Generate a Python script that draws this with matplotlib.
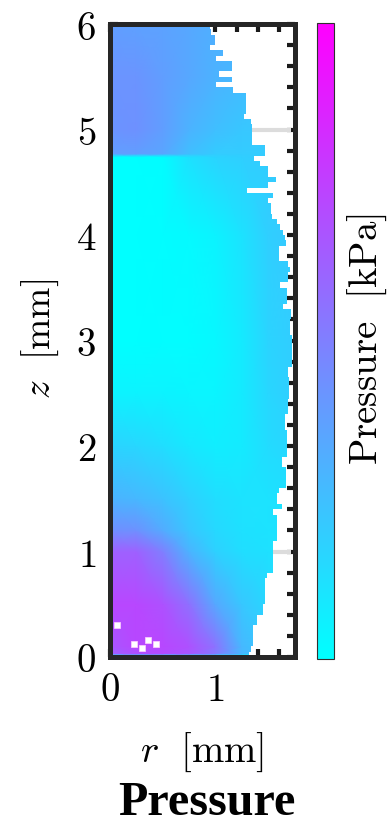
import numpy as np
import matplotlib
matplotlib.use("Agg")
import matplotlib.pyplot as plt
from matplotlib.patches import Polygon
from matplotlib.ticker import FixedLocator

plt.rcParams['mathtext.fontset'] = 'cm'
plt.rcParams['font.family'] = ['DejaVu Serif']

r_cols = [0, .25, .5, .75, 1.0, 1.25, 1.5, 1.8]
z_rows = [0, .02, .03, .1, .5, 1.0, 1.2, 1.5, 2.0, 2.5, 3.0, 4.0, 4.74, 4.77, 5.0, 5.5, 6.0]
pressure = [
    [0, 0, 0, 0, 0, 0, 0, 0],
    [0, 0, 0, 0, 0, 0, 0, 0],
    [.62, .68, .70, .66, .52, .28, .2, .2],
    [.66, .72, .72, .68, .55, .28, .2, .2],
    [.72, .72, .68, .56, .34, .22, .16, .15],
    [.62, .62, .5, .3, .18, .13, .12, .12],
    [.44, .43, .33, .22, .15, .12, .11, .12],
    [.30, .28, .24, .18, .13, .11, .11, .12],
    [.17, .16, .13, .09, .07, .08, .14, .17],
    [.05, .05, .05, .04, .04, .08, .16, .2],
    [0, 0, .01, .01, .03, .08, .17, .2],
    [0, 0, .01, .02, .05, .11, .19, .22],
    [0, 0, .01, .12, .17, .19, .2, .2],
    [.38, .38, .35, .25, .2, .2, .2, .2],
    [.42, .43, .38, .30, .25, .22, .22, .22],
    [.42, .42, .38, .34, .30, .27, .25, .25],
    [.38, .37, .36, .34, .31, .30, .3, .3],
]

# outer radius of the measured region, per 0.05 mm slice from z=6 downward
r_edge = [.95, .96, 1.0, 1.0, .95, 1.07, 1.01, 1.16, 1.16, 1.03, 1.16, 1.01, 1.17,
          1.29, 1.29, 1.29, 1.29, 1.27, 1.34, 1.35, 1.35, 1.35, 1.35, 1.47, 1.47,
          1.37, 1.42, 1.5, 1.5, 1.57, 1.5, 1.3, 1.55, 1.5, 1.53, 1.53, 1.54, 1.58,
          1.61, 1.64, 1.66, 1.67, 1.6, 1.6, 1.6,
          1.69, 1.71, 1.69, 1.69, 1.61, 1.68, 1.68, 1.68, 1.64, 1.72, 1.72, 1.71,
          1.71, 1.71, 1.73, 1.73, 1.73, 1.73, 1.73, 1.73, 1.69, 1.69, 1.70, 1.70,
          1.70, 1.70, 1.69, 1.69, 1.69, 1.66, 1.66, 1.66, 1.68, 1.68, 1.68, 1.68,
          1.68, 1.63, 1.63, 1.67, 1.67, 1.67, 1.67, 1.60, 1.58, 1.58, 1.63,
          1.55, 1.58, 1.58, 1.58, 1.58, 1.58, 1.55, 1.55, 1.55, 1.55, 1.55, 1.55,
          1.49, 1.47, 1.47, 1.47, 1.47, 1.47, 1.45, 1.45, 1.39, 1.39, 1.36, 1.36,
          1.36, 1.36, 1.34, 1.32]

hole_r = [.07, .23, .30, .36, .44]
hole_z = [.30, .12, .09, .16, .12]
grey_z = [5.0, 1.0]
grey_r0 = [1.35, 1.55]

fig = plt.figure(figsize=(3.9, 8.28), dpi=100)
W, H = 390., 828.
x0, x1, ytop, ybot = 110., 294.5, 25., 658.
ax = fig.add_axes([x0/W, 1-ybot/H, (x1-x0)/W, (ybot-ytop)/H])
ax.set_xlim(0, 1.75)
ax.set_ylim(0, 6)
ax.set_axisbelow(True)

mesh = ax.pcolormesh(r_cols, z_rows, np.array(pressure), cmap='cool', vmin=0, vmax=1,
                     shading='gouraud', zorder=1)
verts = [(0, 6)]
z_top = 6.0
for re in r_edge:
    verts += [(re, z_top), (re, z_top-.05)]
    z_top -= .05
verts.append((0, 0))
clip = Polygon(verts, closed=True, transform=ax.transData)
mesh.set_clip_path(clip)

ax.scatter(hole_r, hole_z, marker='s', s=14, c='white', edgecolors='#ffd0ff', linewidths=.5, zorder=1.5)
for gz, g0 in zip(grey_z, grey_r0):
    ax.plot([g0, 1.72], [gz, gz], color='#dcdcdc', lw=3, solid_capstyle='butt', zorder=0.8)

for s in ax.spines.values():
    s.set_linewidth(3.6)
    s.set_color('#262626')
ax.xaxis.set_major_locator(FixedLocator([0, 1]))
ax.yaxis.set_major_locator(FixedLocator([0, 1, 2, 3, 4, 5, 6]))
ax.xaxis.set_minor_locator(FixedLocator([.2, .4, .6, .8, 1.2, 1.4, 1.6]))
ax.yaxis.set_minor_locator(FixedLocator([z/5 for z in range(31) if z % 5]))
ax.set_xticklabels(['$0$', '$1$'])
ax.set_yticklabels([f'${i}$' for i in range(7)])
ax.tick_params(which='both', direction='in', top=True, right=True, length=6, width=3, color='#1a1a1a')
ax.tick_params(which='major', labelsize=28, pad=10)

cax = fig.add_axes([316.5/W, 1-660/H, 17/W, (660-23.5)/H])
cb = fig.colorbar(mesh, cax=cax, ticks=[])
cb.outline.set_linewidth(.8)
cb.outline.set_edgecolor('#303030')

fig.text(202/W, 1-752/H, r'$r\ \ [\mathrm{mm}]$', fontsize=28, ha='center', va='center')
fig.text(40/W, 1-339/H, r'$z\ \ [\mathrm{mm}]$', fontsize=27, ha='center', va='center', rotation=90)
fig.text(367/W, 1-339/H, r'$\mathrm{Pressure\ \ [kPa]}$', fontsize=28, ha='center', va='center', rotation=90)
fig.text(207/W, 1-803/H, 'Pressure', family='Liberation Serif', weight='bold', fontsize=34.7,
         ha='center', va='center')

fig.savefig('out.png', dpi=100)
